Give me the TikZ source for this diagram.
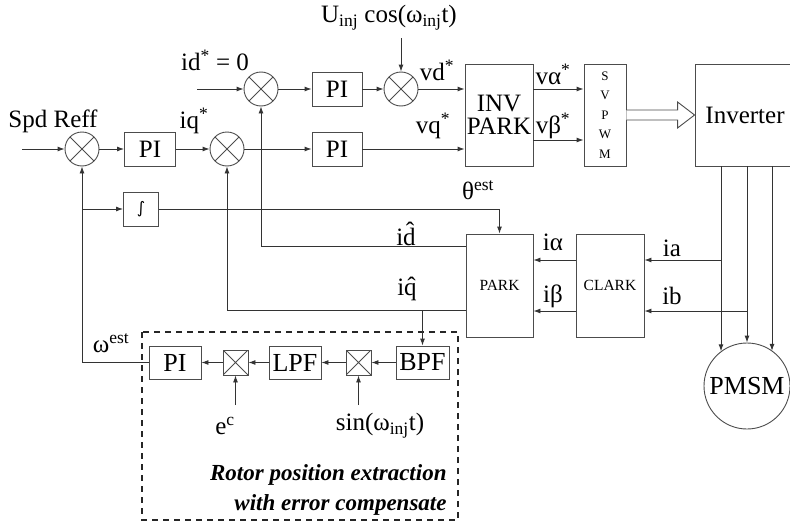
\documentclass[tikz,border=0pt]{standalone}
\usepackage{fontspec}
\setmainfont{Liberation Serif}[BoldFont={Liberation Serif Bold},ItalicFont={Liberation Serif Italic},BoldItalicFont={Liberation Serif Bold Italic}]
\newfontfamily\dvsans{DejaVu Sans}
\usetikzlibrary{arrows.meta,calc}
\begin{document}
\begin{tikzpicture}[x=1pt,y=-1pt,line width=0.9pt,
  every node/.style={font=\fontsize{25}{28}\selectfont, inner sep=0pt, text=black},
  arr/.style={draw=black!80,-{Latex[length=7pt,width=5pt]}},
  xcross/.style={path picture={\draw[black!70,line width=0.8pt] (path picture bounding box.north west) -- (path picture bounding box.south east) (path picture bounding box.north east) -- (path picture bounding box.south west);}},
  sumj/.style={circle, draw=black!70, minimum size=34pt, xcross},
  mult/.style={rectangle, draw=black!70, minimum size=25pt, xcross},
  box/.style 2 args={draw=black!70, minimum width=#1, minimum height=#2},
  small/.style={font=\fontsize{15.5}{18}\selectfont}
]
\useasboundingbox (0,0) rectangle (790,522);

% upper blocks
\node[sumj] (sA) at (82,149) {};
\node[box={51pt}{34pt}] (pi1) at (150,149) {PI};
\node[sumj] (sB) at (227,149) {};
\node[box={50pt}{34pt}] (pi2) at (337,149) {PI};
\node[sumj] (sD) at (261,89) {};
\node[box={50pt}{34pt}] (pi3) at (337,89) {PI};
\node[sumj] (sU) at (401,89) {};
\node[box={68pt}{102pt}, align=center, font=\fontsize{25}{23}\selectfont] (inv) at (499,115) {INV\\PARK};
\node[box={42pt}{102pt}, align=center, font=\fontsize{13}{19.5}\selectfont] (sv) at (605,115) {S\\V\\P\\W\\M};
\node[box={100pt}{102pt}] (invt) at (745,115) {Inverter};
\node[box={35pt}{34pt}, font=\dvsans\fontsize{16}{18}\selectfont] (int) at (141,209) {∫};
\node[box={67pt}{103pt}, small] (park) at (499.5,285.5) {PARK};
\node[box={68pt}{103pt}, small] (clark) at (610,285.5) {CLARK};
\node[circle, draw=black!70, minimum size=86pt, font=\fontsize{26}{28}\selectfont] (pmsm) at (747,386) {PMSM};

% lower chain
\node[box={52pt}{33pt}, font=\fontsize{26}{28}\selectfont] (pi4) at (175,362.5) {PI};
\node[mult] (m1) at (235.5,362.5) {};
\node[box={52pt}{33pt}, font=\fontsize{26}{28}\selectfont] (lpf) at (295,362.5) {LPF};
\node[mult] (m2) at (358.5,362.5) {};
\node[box={53pt}{33pt}, font=\fontsize{26}{28}\selectfont] (bpf) at (422.5,362.5) {BPF};
\draw[black!85, line width=2pt, dash pattern=on 6pt off 5pt] (142,332) rectangle (458,520);

% free ends
\coordinate (spdin) at (22,149);
\coordinate (idin) at (197,89);
\coordinate (uin) at (401,38);
\coordinate (ta) at (721,166);
\coordinate (tb) at (747,166);
\coordinate (tc) at (772,166);
\coordinate (ja) at (721,260);
\coordinate (jb) at (747,311);
\coordinate (ecin) at (235.5,405);
\coordinate (sinin) at (358.5,405);
\coordinate (vb) at ($(inv.east)+(0,25)$);
\coordinate (pd) at ($(park.north west)+(0,13)$);
\coordinate (pq) at ($(park.north west)+(0,77)$);

% connectors
\draw[arr] (spdin) -- (sA);
\draw[arr] (sA) -- (pi1);
\draw[arr] (pi1) -- (sB);
\draw[arr] (sB) -- (pi2);
\draw[arr] (pi2) -- (pi2 -| inv.west);
\draw[arr] (idin) -- (sD);
\draw[arr] (sD) -- (pi3);
\draw[arr] (pi3) -- (sU);
\draw[arr] (uin) -- (sU);
\draw[arr] (sU) -- (sU -| inv.west);
\draw[arr] (inv.east |- sU) -- (sv.west |- sU);
\draw[arr] (vb) -- (vb -| sv.west);
\draw[draw=black!70, fill=white, line width=0.9pt] ($(sv.east)+(0,-5)$) -- ($(invt.west)+(-17,-5)$) -- ($(invt.west)+(-17,-13)$) -- (invt.west) -- ($(invt.west)+(-17,13)$) -- ($(invt.west)+(-17,5)$) -- ($(sv.east)+(0,5)$);
\draw[arr] (ta) -- (ta |- pmsm.127);
\draw[arr] (tb) -- (pmsm.north);
\draw[arr] (tc) -- (tc |- pmsm.54);
\draw[arr] (ja) -- (ja -| clark.east);
\draw[arr] (jb) -- (jb -| clark.east);
\draw[arr] (ja -| clark.west) -- (ja -| park.east);
\draw[arr] (jb -| clark.west) -- (jb -| park.east);
\draw[arr] (int) -| (park.north);
\draw[arr] (sA.south |- int) -- (int);
\draw[arr] (pi4) -| (sA.south);
\draw[arr] (pd) -| (sD.south);
\draw[arr] (pq) -| (sB.south);
\draw[arr] (bpf.north |- pq) -- (bpf.north);
\draw[arr] (bpf) -- (m2);
\draw[arr] (m2) -- (lpf);
\draw[arr] (lpf) -- (m1);
\draw[arr] (m1) -- (pi4);
\draw[arr] (ecin) -- (m1);
\draw[arr] (sinin) -- (m2);

% labels
\node (lspd) at (53,121) {Spd Reff};
\node (lid) at (215,60) {id\textsuperscript{*} = 0};
\node (liq) at (194,121) {iq\textsuperscript{*}};
\node (lu) at (389,18) {U\textsubscript{inj} cos(ω\textsubscript{inj}t)};
\node (lvd) at (437,70) {vd\textsuperscript{*}};
\node (lvq) at (433,126) {vq\textsuperscript{*}};
\node (lva) at (553,74) {vα\textsuperscript{*}};
\node (lvb) at (553,126) {vβ\textsuperscript{*}};
\node (lth) at (478,190) {θ\textsuperscript{est}};
\node (lidh) at (406,234) {i\^{d}};
\node (liqh) at (407,289) {i\^{q}};
\node (lia) at (553,242) {iα};
\node (lib) at (553,296) {iβ};
\node (lia2) at (672,248) {ia};
\node (lib2) at (672,296) {ib};
\node (lw) at (111,343) {ω\textsuperscript{est}};
\node (lec) at (225,426) {e\textsuperscript{c}};
\node (lsin) at (380,426) {sin(ω\textsubscript{inj}t)};
\node[anchor=east, font=\fontsize{23}{26}\selectfont\bfseries\itshape] (lt1) at (447,475) {Rotor position extraction};
\node[anchor=east, font=\fontsize{23}{26}\selectfont\bfseries\itshape] (lt2) at (447,505) {with error compensate};
\end{tikzpicture}
\end{document}
